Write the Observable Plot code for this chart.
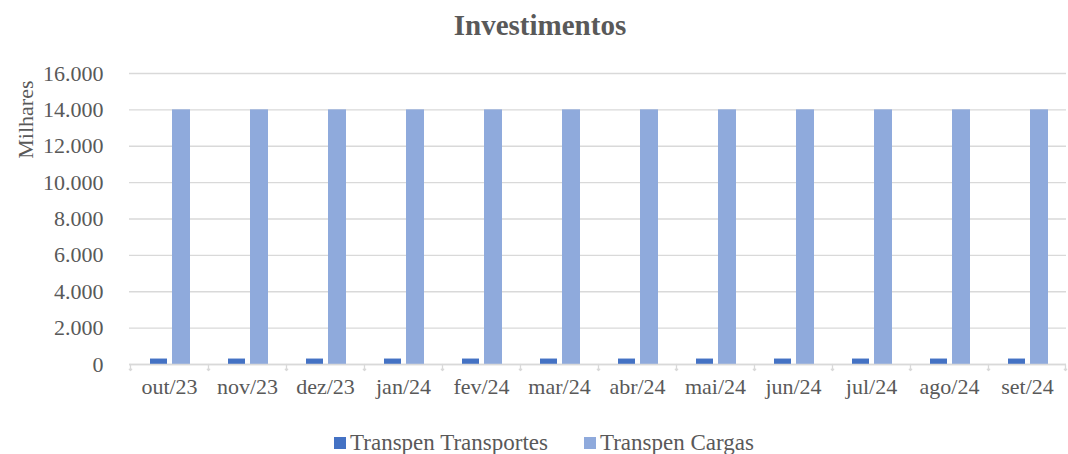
<!DOCTYPE html>
<html>
<head>
<meta charset="utf-8">
<script src="https://cdn.jsdelivr.net/npm/d3@7"></script>
<script src="https://cdn.jsdelivr.net/npm/@observablehq/plot@0.6"></script>
<style>
  body { margin: 0; background: #fff; font-family: "Liberation Serif", "DejaVu Serif", serif; color: #595959; }
  #wrap { width: 1068px; height: 454px; position: relative; overflow: hidden; }
  #title { height: 50px; line-height: 50px; text-align: center; font-size: 29px; font-weight: bold; padding-left: 12px; }
  #legend { display: flex; justify-content: center; gap: 36px; font-size: 23px; line-height: 26px; padding-left: 20px; margin-top: 10px; }
  #legend span.sw { display: inline-block; width: 12px; height: 12px; margin-right: 4px; }
  #legend .item { display: flex; align-items: center; }
</style>
</head>
<body>
<div id="wrap">
  <div id="title">Investimentos</div>
  <div id="chart"></div>
  <div id="legend"></div>
</div>
<script>
const months = ["out/23","nov/23","dez/23","jan/24","fev/24","mar/24","abr/24","mai/24","jun/24","jul/24","ago/24","set/24"];
const seriesNames = ["Transpen Transportes", "Transpen Cargas"];
const transportes = [300, 300, 300, 300, 300, 300, 300, 300, 300, 300, 300, 300];
const cargas = [14000, 14000, 14000, 14000, 14000, 14000, 14000, 14000, 14000, 14000, 14000, 14000];
const yTicks = [0, 2000, 4000, 6000, 8000, 10000, 12000, 14000, 16000];
const colors = ["#4472C4", "#8FAADC"];

const dataT = months.map((m, i) => ({month: m, value: transportes[i]}));
const dataC = months.map((m, i) => ({month: m, value: cargas[i]}));

const loc = d3.formatLocale({decimal: ",", thousands: ".", grouping: [3], currency: ["", ""]});
const fmt = loc.format(",d");
const textColor = "#595959";
const fontFamily = "Liberation Serif, DejaVu Serif, serif";

const chart = Plot.plot({
  width: 1068,
  height: 370,
  marginLeft: 129,
  marginRight: 2,
  marginTop: 23,
  marginBottom: 56,
  style: {fontFamily, fontSize: "22px", color: textColor, background: "#fff"},
  x: {domain: months, padding: 0, label: null},
  y: {domain: [0, 16000], label: null},
  marks: [
    Plot.gridY(yTicks, {stroke: "#d9d9d9", strokeOpacity: 1, strokeWidth: 1.3}),
    Plot.barY(dataT, {x: "month", y: "value", fill: colors[0], insetLeft: 20, insetRight: 41}),
    Plot.barY(dataC, {x: "month", y: "value", fill: colors[1], insetLeft: 42, insetRight: 18}),
    Plot.ruleY([0], {stroke: "#d9d9d9", strokeWidth: 1.3}),
    Plot.vector(months, {x: d => d, frameAnchor: "bottom", dx: -39, length: 6, rotate: 180, anchor: "start", stroke: "#d9d9d9", strokeWidth: 1.3}),
    Plot.vector(months.slice(-1), {x: d => d, frameAnchor: "bottom", dx: 38, length: 6, rotate: 180, anchor: "start", stroke: "#d9d9d9", strokeWidth: 1.3}),
    Plot.axisY(yTicks, {tickSize: 0, tickPadding: 26, tickFormat: fmt, label: null, fill: textColor, fontSize: 22}),
    Plot.axisX(months, {tickSize: 0, tickPadding: 14, label: null, fill: textColor, fontSize: 22}),
    Plot.text(["Milhares"], {frameAnchor: "top-left", rotate: -90, textAnchor: "end", dx: -112, dy: 7, fill: textColor, fontSize: 22})
  ]
});
document.getElementById("chart").appendChild(chart);

const legend = document.getElementById("legend");
seriesNames.forEach((name, i) => {
  const item = document.createElement("div");
  item.className = "item";
  const sw = document.createElement("span");
  sw.className = "sw";
  sw.style.background = colors[i];
  item.appendChild(sw);
  item.appendChild(document.createTextNode(name));
  legend.appendChild(item);
});
</script>
</body>
</html>
